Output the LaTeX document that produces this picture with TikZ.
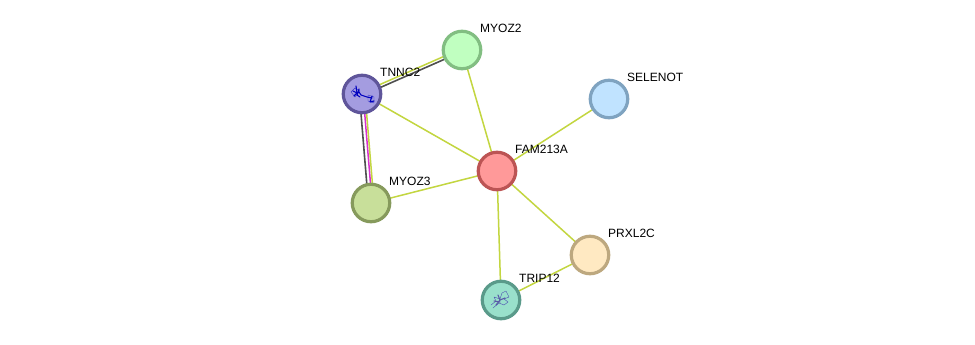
\documentclass[tikz,border=0pt]{standalone}
\usepackage{fontspec}
\setmainfont{Liberation Sans}
\usetikzlibrary{backgrounds,calc}
\definecolor{evyellow}{HTML}{C3D640}
\definecolor{evdark}{HTML}{4F4F4F}
\definecolor{evpink}{HTML}{D82FD0}
\tikzset{
  x=1pt,y=-1pt,
  protein/.style={circle,minimum size=37.5pt,inner sep=0pt,line width=3.2pt},
  tag/.style={anchor=base west,inner sep=0pt,font=\fontsize{12pt}{13pt}\selectfont,text=black},
  evidence/.style={line width=1.5pt,evyellow},
  darkev/.style={line width=1.6pt,evdark},
  pinkev/.style={line width=1.5pt,evpink},
  fold/.style={line width=1.1pt,blue!75!black,line cap=round,line join=round},
  thinfold/.style={line width=0.4pt,line cap=round,line join=round}
}
\begin{document}
\begin{tikzpicture}
\useasboundingbox (0,0) rectangle (975,345);

% protein nodes
\node[protein,draw={rgb,255:red,188;green,84;blue,84},fill={rgb,255:red,255;green,153;blue,153}] (fam) at (497,171) {};
\node[protein,draw={rgb,255:red,130;green,190;blue,130},fill={rgb,255:red,192;green,255;blue,192}] (myoz2) at (462,50) {};
\node[protein,draw={rgb,255:red,95;green,85;blue,154},fill={rgb,255:red,164;green,156;blue,224}] (tnnc) at (362,94) {};
\node[protein,draw={rgb,255:red,127;green,163;blue,192},fill={rgb,255:red,192;green,227;blue,255}] (selenot) at (609,99) {};
\node[protein,draw={rgb,255:red,134;green,154;blue,92},fill={rgb,255:red,200;green,223;blue,154}] (myoz3) at (371,203) {};
\node[protein,draw={rgb,255:red,189;green,168;blue,127},fill={rgb,255:red,255;green,233;blue,194}] (prxl) at (590,255) {};
\node[protein,draw={rgb,255:red,90;green,154;blue,138},fill={rgb,255:red,153;green,224;blue,203}] (trip) at (501,300) {};

% interaction edges
\begin{scope}[on background layer]
  \fill[white] (0,0) rectangle (975,345);
  \draw[evidence] (fam.center) -- (myoz2.center);
  \draw[evidence] (fam.center) -- (tnnc.center);
  \draw[evidence] (fam.center) -- (selenot.center);
  \draw[evidence] (fam.center) -- (myoz3.center);
  \draw[evidence] (fam.center) -- (prxl.center);
  \draw[evidence] (fam.center) -- (trip.center);
  \draw[evidence] (prxl.center) -- (trip.center);
  \draw[evidence,transform canvas={xshift=-0.6pt,yshift=1.3pt}] (tnnc.center) -- (myoz2.center);
  \draw[darkev,transform canvas={xshift=0.6pt,yshift=-1.3pt}] (tnnc.center) -- (myoz2.center);
  \draw[darkev,transform canvas={xshift=-2.6pt,yshift=-0.2pt}] (tnnc.center) -- (myoz3.center);
  \draw[pinkev,transform canvas={xshift=1.1pt}] (tnnc.center) -- (myoz3.center);
  \draw[evidence,transform canvas={xshift=3pt,yshift=0.2pt}] (tnnc.center) -- (myoz3.center);
\end{scope}

% small structure sketches inside two of the nodes
\draw[thinfold,blue!55!gray] ($(tnnc)+(-11,-2)$) -- ($(tnnc)+(-7,-6)$) -- ($(tnnc)+(-2,-3)$) -- ($(tnnc)+(-7,3)$) -- ($(tnnc)+(-11,-2)$);
\draw[thinfold,blue!55!gray] ($(tnnc)+(6,1)$) -- ($(tnnc)+(12,3)$) -- ($(tnnc)+(12,9)$) -- ($(tnnc)+(6,7)$) -- cycle;
\draw[fold] ($(tnnc)+(-9,-3)$) -- ($(tnnc)+(-5,-1)$) -- ($(tnnc)+(-3,-2)$) -- ($(tnnc)+(-1,1)$) -- ($(tnnc)+(5,3)$) -- ($(tnnc)+(10,4)$);
\draw[fold] ($(tnnc)+(-6,-8)$) -- ($(tnnc)+(-5,-1)$) -- ($(tnnc)+(-8,2)$);
\draw[fold] ($(tnnc)+(-3,-5)$) -- ($(tnnc)+(-5,1)$) -- ($(tnnc)+(-2,3)$);
\draw[fold] ($(tnnc)+(10,2)$) -- ($(tnnc)+(8,8)$) -- ($(tnnc)+(12,7)$);
\draw[thinfold,gray!60!blue] ($(trip)+(-10,5)$) -- ($(trip)+(-5,1)$) -- ($(trip)+(-7,-3)$) -- ($(trip)+(-1,-1)$) -- ($(trip)+(1,-7)$) -- ($(trip)+(5,-9)$) -- ($(trip)+(8,-3)$) -- ($(trip)+(3,-1)$) -- ($(trip)+(7,2)$) -- ($(trip)+(3,5)$) -- ($(trip)+(-2,3)$) -- ($(trip)+(-8,8)$);
\draw[fold,line width=1.1pt,blue!30!gray] ($(trip)+(-5,5)$) -- ($(trip)+(-1,0)$) -- ($(trip)+(-3,-5)$);
\draw[fold,line width=1.1pt,blue!30!gray] ($(trip)+(-1,0)$) -- ($(trip)+(4,-2)$);
\draw[fold,line width=1.1pt,blue!30!gray] ($(trip)+(-7,1)$) -- ($(trip)+(-1,2)$);

% protein names
\node[tag] (lmyoz2) at (480,32.5) {MYOZ2};
\node[tag] (ltnnc) at (380,76.5) {TNNC2};
\node[tag] (lselenot) at (627,81.5) {SELENOT};
\node[tag] (lfam) at (515,153.5) {FAM213A};
\node[tag] (lmyoz3) at (389,185.5) {MYOZ3};
\node[tag] (lprxl) at (608,237.5) {PRXL2C};
\node[tag] (ltrip) at (519,282.5) {TRIP12};
\end{tikzpicture}
\end{document}
